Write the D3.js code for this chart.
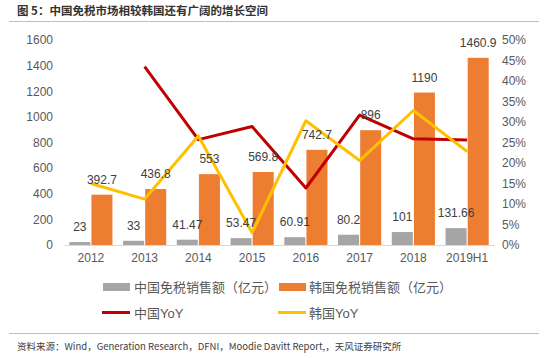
<!DOCTYPE html>
<html>
<head>
<meta charset="utf-8">
<script src="https://cdn.jsdelivr.net/npm/d3@7"></script>
<style>
body{margin:0;background:#fff;}
svg text{font-family:"Liberation Sans","Noto Sans CJK SC",sans-serif;}
</style>
</head>
<body>
<svg id="chart" width="554" height="358"></svg>
<script>
const categories = ["2012","2013","2014","2015","2016","2017","2018","2019H1"];
const chinaSales = [23,33,41.47,53.47,60.91,80.2,101,131.66];
const koreaSales = [392.7,436.8,553,569.8,742.7,896,1190,1460.9];
const chinaYoY = [null,43.5,25.7,28.9,13.9,31.7,25.9,25.6];
const koreaYoY = [15.0,11.2,26.6,3.0,30.3,20.6,32.8,22.8];
const leftTicks = [0,200,400,600,800,1000,1200,1400,1600];
const rightTicks = [0,5,10,15,20,25,30,35,40,45,50];
const chinaSalesLabels = ["23","33","41.47","53.47","60.91","80.2","101","131.66"];
const koreaSalesLabels = ["392.7","436.8","553","569.8","742.7","896","1190","1460.9"];

const svg = d3.select("#chart");
const L = 64, R = 494, T = 40, B = 245;
const x = d3.scaleBand().domain(categories).range([L,R]).padding(0);
const sub = d3.scaleBand().domain(["cn","kr"]).range([0,x.bandwidth()]).paddingInner(0.05).paddingOuter(0.24);
const yL = d3.scaleLinear().domain([0,1600]).range([B,T]);
const yR = d3.scaleLinear().domain([0,50]).range([B,T]);

// title
svg.append("text").attr("x",17).attr("y",15).attr("font-size",11.5).attr("font-weight","bold")
  .attr("fill","#333").style("font-family","'Noto Sans CJK SC',sans-serif")
  .text("图 5：中国免税市场相较韩国还有广阔的增长空间");
svg.append("line").attr("x1",9).attr("x2",539).attr("y1",21.5).attr("y2",21.5).attr("stroke","#F0B27A").attr("stroke-width",1.2);

// axes
const axL = d3.axisLeft(yL).tickValues(leftTicks).tickFormat(d3.format("d")).tickSize(0).tickPadding(11);
const gL = svg.append("g").attr("transform",`translate(${L},0)`).call(axL);
gL.select(".domain").remove();
gL.selectAll("text").attr("font-size",12).attr("fill","#595959").style("font-family","'Liberation Sans',sans-serif");

const axR = d3.axisRight(yR).tickValues(rightTicks).tickFormat(d=>d+"%").tickSize(0).tickPadding(8);
const gR = svg.append("g").attr("transform",`translate(${R},0)`).call(axR);
gR.select(".domain").remove();
gR.selectAll("text").attr("font-size",12).attr("fill","#595959").style("font-family","'Liberation Sans',sans-serif");

const axB = d3.axisBottom(x).tickSize(0).tickPadding(8);
const gB = svg.append("g").attr("transform",`translate(0,${B})`).call(axB);
gB.select(".domain").attr("stroke","#D9D9D9");
gB.selectAll("text").attr("font-size",12).attr("fill","#595959");

// bars
svg.append("g").selectAll("rect").data(categories).join("rect")
  .attr("x",(d)=>x(d)+sub("cn")).attr("width",sub.bandwidth())
  .attr("y",(d,i)=>yL(chinaSales[i])).attr("height",(d,i)=>B-yL(chinaSales[i]))
  .attr("fill","#A5A5A5");
svg.append("g").selectAll("rect").data(categories).join("rect")
  .attr("x",(d)=>x(d)+sub("kr")).attr("width",sub.bandwidth())
  .attr("y",(d,i)=>yL(koreaSales[i])).attr("height",(d,i)=>B-yL(koreaSales[i]))
  .attr("fill","#ED7D31");

// lines
const line = d3.line().defined(d=>d.v!=null).x(d=>x(d.c)+x.bandwidth()/2).y(d=>yR(d.v));
svg.append("path").datum(categories.map((c,i)=>({c,v:chinaYoY[i]})))
  .attr("d",line).attr("fill","none").attr("stroke","#C00000").attr("stroke-width",3).attr("stroke-linejoin","round");
svg.append("path").datum(categories.map((c,i)=>({c,v:koreaYoY[i]})))
  .attr("d",line).attr("fill","none").attr("stroke","#FFC000").attr("stroke-width",3).attr("stroke-linejoin","round");

// data labels
svg.append("g").selectAll("text").data(categories).join("text")
  .attr("x",d=>x(d)+sub("cn")+sub.bandwidth()/2).attr("y",(d,i)=>yL(chinaSales[i])-11)
  .attr("text-anchor","middle").attr("font-size",12).attr("fill","#404040")
  .text((d,i)=>chinaSalesLabels[i]);
svg.append("g").selectAll("text").data(categories).join("text")
  .attr("x",d=>x(d)+sub("kr")+sub.bandwidth()/2).attr("y",(d,i)=>yL(koreaSales[i])-11)
  .attr("text-anchor","middle").attr("font-size",12).attr("fill","#404040")
  .text((d,i)=>koreaSalesLabels[i]);

// legend
const lg = svg.append("g").style("font-family","'Noto Sans CJK SC',sans-serif");
lg.append("rect").attr("x",103).attr("y",283).attr("width",27).attr("height",8).attr("fill","#A5A5A5");
lg.append("text").attr("x",134).attr("y",292).attr("font-size",13).attr("fill","#595959").text("中国免税销售额（亿元）");
lg.append("rect").attr("x",279).attr("y",283).attr("width",27).attr("height",8).attr("fill","#ED7D31");
lg.append("text").attr("x",309).attr("y",292).attr("font-size",13).attr("fill","#595959").text("韩国免税销售额（亿元）");
lg.append("line").attr("x1",102).attr("x2",130).attr("y1",312.5).attr("y2",312.5).attr("stroke","#C00000").attr("stroke-width",3);
lg.append("text").attr("x",134).attr("y",317.5).attr("font-size",13).attr("fill","#595959").text("中国YoY");
lg.append("line").attr("x1",278).attr("x2",306).attr("y1",312.5).attr("y2",312.5).attr("stroke","#FFC000").attr("stroke-width",3);
lg.append("text").attr("x",309).attr("y",317.5).attr("font-size",13).attr("fill","#595959").text("韩国YoY");

// bottom rule & source
svg.append("line").attr("x1",9).attr("x2",539).attr("y1",333.5).attr("y2",333.5).attr("stroke","#F0B27A").attr("stroke-width",1.2);
svg.append("text").attr("x",17).attr("y",349.5).attr("font-size",9.5).attr("fill","#404040")
  .style("font-family","'Noto Sans CJK SC',sans-serif")
  .text("资料来源：Wind，Generation Research，DFNI，Moodie Davitt Report,，天风证券研究所");
</script>
</body>
</html>
